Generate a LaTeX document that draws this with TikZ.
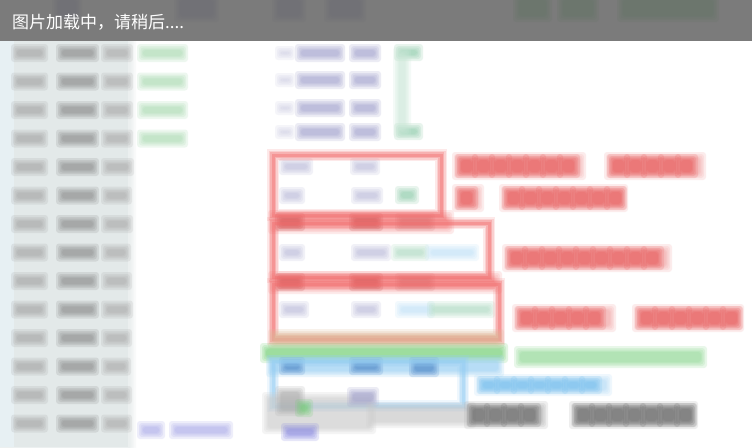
\documentclass[tikz,border=0pt]{standalone}
\usepackage{fontspec}
\newfontfamily\cjk{Noto Sans CJK SC}
\definecolor{topbar}{HTML}{7B7B7B}
\definecolor{underbar}{HTML}{5E5E6E}
\definecolor{undergreen}{HTML}{4E6E52}
\definecolor{leftbg}{HTML}{E3E9E9}
\definecolor{lg1}{HTML}{A4A4A4}
\definecolor{lg2}{HTML}{8A8A8A}
\definecolor{lg3}{HTML}{ABABAB}
\definecolor{pgreen}{HTML}{A9D9B0}
\definecolor{mgreen}{HTML}{8CCBA8}
\definecolor{mblue}{HTML}{A0A0CC}
\definecolor{redline}{HTML}{F26C6C}
\definecolor{redtext}{HTML}{E85858}
\definecolor{darkred}{HTML}{C04848}
\definecolor{gband}{HTML}{70CE72}
\definecolor{gtext}{HTML}{5EC663}
\definecolor{bbox}{HTML}{96CEF3}
\definecolor{btext}{HTML}{72BDEE}
\definecolor{dblue}{HTML}{4E86C8}
\definecolor{dtext}{HTML}{666666}
\definecolor{purp}{HTML}{8686E0}
% fuzzy filled blob: x1 y1 x2 y2 colour
\newcommand\fz[5]{\foreach \d in {6,4,2.5,1,0}{\fill[#5,opacity=0.2,rounded corners=3pt] ({#1-\d},{#2-\d}) rectangle ({#3+\d},{#4+\d});}}
% fuzzy text line: x1 x2 ycentre half-height colour
\newcommand\fztext[5]{%
  \fz{#1}{#3-#4}{#2}{#3+#4}{#5!55}%
  \pgfmathtruncatemacro\nch{(#2-#1-8)/17}%
  \foreach \k in {0,...,\nch}{\fz{#1+3+17*\k}{#3-#4+2}{#1+14+17*\k}{#3+#4-2}{#5}}%
}
% fuzzy outline box: x1 y1 x2 y2 colour
\newcommand\fzbox[5]{\foreach \w/\o in {12/0.15,9/0.2,6/0.3,3/0.4}{\draw[#5,line width=\w pt,opacity=\o] (#1,#2) rectangle (#3,#4);}}
\begin{document}
\begin{tikzpicture}[x=1pt,y=-1pt]
\useasboundingbox (0,0) rectangle (752,447);
\fill[white] (0,0) rectangle (752,447);
% left column background
\fz{-6}{41}{130}{453}{leftbg}
\fill[leftbg] (0,41) rectangle (128,447);
\fill[cyan!8,opacity=0.5] (0,41) rectangle (14,447);
% left column rows
\foreach \i/\a in {0/127,1/127,2/127,3/127,4/128,5/126,6/127,7/125,8/126,9/127,10/126,11/125,12/126,13/126}{
  \pgfmathsetmacro\yy{53+28.5*\i}
  \fz{17}{\yy-3}{42}{\yy+3}{lg1}
  \fz{62}{\yy-3}{93}{\yy+3}{lg2}
  \fz{107}{\yy-3}{\a}{\yy+3}{lg3}
}
% green entries, left
\foreach \i in {0,1,2,3}{
  \pgfmathsetmacro\yy{53+28.5*\i}
  \fz{143}{\yy-3}{182}{\yy+3}{pgreen}
}
% middle column, top rows
\foreach \yy in {53,80,108,132}{
  \fz{301}{\yy-3}{339}{\yy+3}{mblue}
  \fz{355}{\yy-3}{375}{\yy+3}{mblue}
  \fz{281}{\yy-1}{289}{\yy+1}{mblue!50}
}
\fz{400}{50}{417}{55}{mgreen}
\fz{400}{129}{417}{134}{mgreen}
\fz{399}{53}{405}{131}{mgreen!45}
% rows inside boxes
\fz{285}{164}{307}{169}{mblue!70}
\fz{356}{164}{374}{169}{mblue!70}
\fz{285}{193}{299}{198}{mblue!70}
\fz{357}{193}{377}{198}{mblue!70}
\fz{401}{192}{413}{198}{mgreen}
\fz{285}{250}{299}{255}{mblue!70}
\fz{357}{250}{385}{255}{mblue!70}
\fz{397}{250}{423}{255}{mgreen!70}
\fz{431}{250}{473}{255}{bbox!60}
\fz{285}{307}{303}{312}{mblue!70}
\fz{357}{307}{375}{312}{mblue!70}
\fz{401}{307}{429}{312}{bbox!60}
\fz{433}{307}{489}{312}{mgreen!70}
% red highlighted rows (box edges)
\fz{274}{216}{448}{228}{redline!70}
\fz{274}{277}{496}{288}{redline!70}
\foreach \yy in {222,282}{
  \fz{281}{\yy-3}{299}{\yy+3}{darkred}
  \fz{355}{\yy-3}{377}{\yy+3}{darkred}
  \fz{401}{\yy-3}{429}{\yy+3}{darkred!70}
}
% red boxes
\fzbox{273}{155}{441}{215}{redline}
\fzbox{273}{223}{489}{277}{redline}
\fzbox{273}{284}{499}{339}{redline}
% brownish row at bottom of box 3
\fz{274}{335}{498}{343}{brown!55}
% green band
\fz{266}{349}{502}{357}{gband}
% blue box and highlighted row
\fz{272}{361}{498}{371}{bbox}
\fz{285}{363}{299}{369}{dblue}
\fz{355}{363}{377}{369}{dblue}
\fz{415}{363}{433}{371}{dblue}
\fzbox{273}{361}{463}{406}{bbox}
% gray overlay at bottom
\fz{268}{398}{370}{428}{gray!40}
\fz{281}{392}{299}{410}{gray!65}
\fz{353}{393}{373}{401}{mblue}
\fz{301}{405}{307}{411}{gband}
\fz{287}{429}{313}{435}{purp}
% bottom-left blue text
\fz{143}{427}{159}{433}{purp!70}
\fz{175}{427}{227}{433}{purp!70}
% red labels
\fztext{458}{580}{166}{8}{redtext}
\fztext{610}{700}{166}{8}{redtext}
\fztext{458}{478}{198}{8}{redtext}
\fztext{505}{622}{198}{8}{redtext}
\fztext{508}{666}{258}{8}{redtext}
\fztext{518}{610}{318}{8}{redtext}
\fztext{638}{738}{318}{8}{redtext}
% green label
\fz{520}{352}{701}{362}{gtext!70}
% blue label
\fztext{480}{606}{385}{5}{btext}
% dark label
\fz{372}{408}{470}{422}{dtext!35}
\fztext{470}{542}{415}{8}{dtext}
\fztext{575}{692}{415}{8}{dtext}
% top bar
\fill[topbar] (0,0) rectangle (752,41);
\fz{58}{0}{76}{16}{underbar}
\fz{180}{0}{213}{16}{underbar}
\fz{278}{0}{300}{16}{underbar}
\fz{330}{0}{360}{16}{underbar}
\fz{519}{0}{546}{16}{undergreen}
\fz{563}{0}{593}{16}{undergreen}
\fz{623}{0}{713}{16}{undergreen}
\fill[topbar,opacity=0.55] (0,0) rectangle (752,41);
\node[anchor=west,text=white,inner sep=0pt,font=\cjk\fontsize{17}{17}\selectfont] (title) at (12,22) {图片加载中，请稍后....};
\end{tikzpicture}
\end{document}
